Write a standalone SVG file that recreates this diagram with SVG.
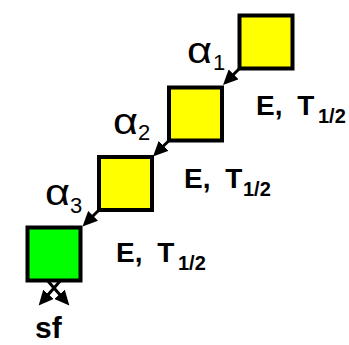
<svg xmlns="http://www.w3.org/2000/svg" width="349" height="345" viewBox="0 0 349 345">
<style>
.box{stroke:#000;stroke-width:4}
.y{fill:#ffff00}
.g{fill:#00ff00}
.lbl{font-family:"Liberation Sans",Arial,sans-serif;font-weight:bold;font-size:28px;fill:#000;word-spacing:7px}
.sub{font-size:20px}
.alpha{font-family:"Liberation Sans",Arial,sans-serif;font-size:37px;fill:#000}
.asub{font-size:22px}
.arr{stroke:#000;stroke-width:3;fill:none;marker-end:url(#ah)}
</style>
<defs>
<marker id="ah" markerUnits="userSpaceOnUse" markerWidth="16" markerHeight="14" refX="2" refY="7" orient="auto"><path d="M0,0 L15,7 L0,14 z" fill="#000"/></marker>
</defs>
<g id="connectors">
<line class="arr" x1="240" y1="68" x2="232.2" y2="75.8"/>
<line class="arr" x1="169.5" y1="140" x2="162.2" y2="147.3"/>
<line class="arr" x1="99.5" y1="209.5" x2="91.7" y2="217.3"/>
<line class="arr" x1="61" y1="280" x2="47.2" y2="295.8"/>
<line class="arr" x1="47" y1="280" x2="60.8" y2="295.8"/>
</g>
<g id="node1">
<rect class="box y" x="239.5" y="15.5" width="53" height="53"/>
</g>
<g id="node2">
<rect class="box y" x="169" y="87.5" width="53" height="53"/>
</g>
<g id="node3">
<rect class="box y" x="99" y="157" width="53" height="53"/>
</g>
<g id="node4">
<rect class="box g" x="27.5" y="227.5" width="53" height="53"/>
</g>
<g id="labels">
<text class="alpha" x="187" y="63"><tspan textLength="25" lengthAdjust="spacingAndGlyphs">α</tspan><tspan class="asub" x="213" y="70">1</tspan></text>
<text class="alpha" x="113" y="134"><tspan textLength="25" lengthAdjust="spacingAndGlyphs">α</tspan><tspan class="asub" x="138" y="140">2</tspan></text>
<text class="alpha" x="45" y="205"><tspan textLength="25" lengthAdjust="spacingAndGlyphs">α</tspan><tspan class="asub" x="70" y="213">3</tspan></text>
<text class="lbl" x="256" y="115">E, T<tspan class="sub" x="318" y="123">1/2</tspan></text>
<text class="lbl" x="184" y="188">E, T<tspan class="sub" x="243" y="196">1/2</tspan></text>
<text class="lbl" x="116" y="262">E, T<tspan class="sub" x="178" y="270">1/2</tspan></text>
<text class="lbl" x="35" y="338" style="font-size:30px">sf</text>
</g>
</svg>
